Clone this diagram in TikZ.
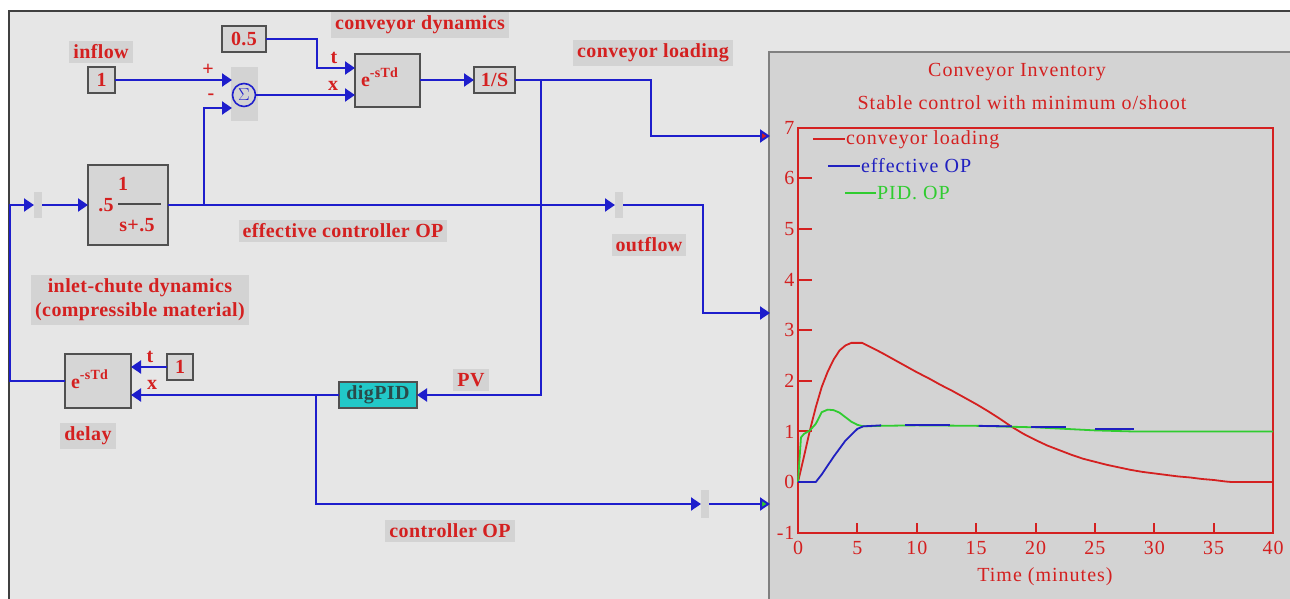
\documentclass[tikz,border=0pt]{standalone}
\usepackage{fontspec}
\setmainfont{Liberation Serif}[LetterSpace=2]
\newfontfamily\plotfamily{Liberation Serif}[LetterSpace=5]
\usetikzlibrary{arrows.meta}
\definecolor{pagebg}{HTML}{E6E6E6}
\definecolor{lblbg}{HTML}{D3D3D3}
\definecolor{blkfill}{HTML}{D6D6D6}
\definecolor{blkborder}{HTML}{505050}
\definecolor{wireblue}{HTML}{1E1ECC}
\definecolor{txtred}{HTML}{D42020}
\definecolor{panelgray}{HTML}{D3D3D3}
\definecolor{framegray}{HTML}{404040}
\definecolor{pidfill}{HTML}{22C8C8}
\definecolor{pidtext}{HTML}{2A4A4A}
\definecolor{pgreen}{HTML}{30CC30}
\definecolor{pblue}{HTML}{2020C0}
\definecolor{pred}{HTML}{D42020}
\newcommand\lblfont{\fontsize{20}{24}\selectfont\bfseries}
\newcommand\plotfont{\plotfamily\fontsize{20}{24}\selectfont}
\newcommand\supfont{\fontsize{14}{14}\selectfont\bfseries}
\begin{document}
\begin{tikzpicture}[x=1pt,y=-1pt,
  every node/.style={inner sep=0pt,outer sep=0pt},
  lbl/.style={fill=lblbg,text=txtred,font=\lblfont,inner xsep=4pt,inner ysep=4pt,align=center},
  plaintxt/.style={text=txtred,font=\lblfont},
  smalltxt/.style={text=txtred,font=\fontsize{20}{20}\selectfont\bfseries},
  blockbox/.style={draw=blkborder,fill=blkfill,line width=1.6pt,text=txtred,font=\lblfont},
  portbar/.style={fill=lblbg,minimum width=8pt,minimum height=26pt},
  wireline/.style={draw=wireblue,line width=2pt},
  flow/.style={wireline,-{Triangle[length=10pt,width=13pt]}},
  flowR/.style={wireline,-{Triangle[length=10pt,width=13pt,fill=pred]}},
  flowG/.style={wireline,-{Triangle[length=10pt,width=13pt,fill=pgreen]}},
  axisline/.style={draw=pred,line width=2pt},
  ticktxt/.style={text=pred,font=\plotfont},
  curve/.style={line width=1.8pt,line join=round}
]
\useasboundingbox (0,0) rectangle (1290,599);
% backgrounds
\fill[white] (0,0) rectangle (1290,599);
\fill[pagebg] (9,11) rectangle (1290,599);
\fill[panelgray] (769,52) rectangle (1290,599);
\draw[gray,line width=2pt] (769,599) -- (769,52) -- (1290,52);
\draw[framegray,line width=2.5pt] (9,599) -- (9,11) -- (1290,11);

% ---- labels
\node[lbl] (inflowlbl) at (101,52) {inflow};
\node[lbl] (cdynlbl) at (420,25) {conveyor dynamics};
\node[lbl] (cloadlbl) at (653,53) {conveyor loading};
\node[lbl] (efflbl) at (343,231) {effective controller OP};
\node[lbl] (outflowlbl) at (649,245) {outflow};
\node[lbl] (inletlbl) at (140,300) {inlet-chute dynamics\\(compressible material)};
\node[lbl] (delaylbl) at (88,436) {delay};
\node[lbl] (pvlbl) at (471,380) {PV};
\node[lbl] (coplbl) at (450,531) {controller OP};

% ---- blocks
\node[blockbox,minimum width=27pt,minimum height=26pt] (one1) at (101.5,80) {1};
\node[blockbox,minimum width=44pt,minimum height=26pt] (half) at (244,39) {0.5};
\node[fill=lblbg,minimum width=27pt,minimum height=54pt] (sumbg) at (244,94) {};
\node[circle,draw=wireblue,line width=1.6pt,minimum size=23pt,text=wireblue,font=\fontsize{16}{16}\selectfont] (sum) at (244,95) {$\Sigma$};
\node[blockbox,minimum width=65pt,minimum height=53pt] (cdel) at (387.5,80.5) {};
\node[plaintxt,anchor=base west] (cdeltxt) at (361,87) {e\raisebox{9pt}{\supfont -sTd}};
\node[blockbox,minimum width=41pt,minimum height=26pt] (integ) at (494.5,80) {1/S};
\node[blockbox,minimum width=80pt,minimum height=80pt] (filt) at (128,205) {};
\node[plaintxt] (filtk) at (106,205) {.5};
\node[plaintxt] (filtnum) at (123,184) {1};
\node[plaintxt] (filtden) at (137,225) {s+.5};
\draw[black!70,line width=1.2pt] (118,204) -- (161,204);
\node[blockbox,minimum width=66pt,minimum height=54pt] (ldel) at (98,381) {};
\node[plaintxt,anchor=base west] (ldeltxt) at (71,388) {e\raisebox{9pt}{\supfont -sTd}};
\node[blockbox,minimum width=26pt,minimum height=26pt] (one2) at (180,367) {1};
\node[draw=blkborder,line width=1.6pt,fill=pidfill,text=pidtext,font=\lblfont,minimum width=78pt,minimum height=26pt] (pid) at (378,395) {digPID};
\node[portbar] (lport) at (38,205) {};
\node[portbar] (outport) at (619,205) {};
\node[portbar,minimum height=28pt] (cport) at (705,504) {};

% ---- small port labels
\node[smalltxt] (plus) at (208,70) {+};
\node[smalltxt] (minus) at (211,97) {-};
\node[smalltxt] (ct) at (334,58) {t};
\node[smalltxt] (cx) at (333,86) {x};
\node[smalltxt] (lt) at (150,357) {t};
\node[smalltxt] (lx) at (152,385) {x};

% ---- connectors
\coordinate (sumPlus) at (232,80);
\coordinate (sumMinus) at (232,108);
\coordinate (fj) at (204,205);
\coordinate (tbend) at (317,68);
\coordinate (lbend) at (651,136);
\coordinate (plotA) at (770,136);
\coordinate (pvj) at (541,80);
\coordinate (obend) at (703,313);
\coordinate (plotB) at (770,313);
\coordinate (lcorner) at (10,205);
\coordinate (cj) at (316,395);
\coordinate (plotC) at (770,504);

\draw[flow] (one1.east) -- (sumPlus);
\draw[flow] (fj) |- (sumMinus);
\draw[flow] (sum.east) -- (sum.east -| cdel.west);
\draw[flow] (half.east) -| (tbend) -- (tbend -| cdel.west);
\draw[flow] (cdel.east |- integ.west) -- (integ.west);
\draw[flowR] (integ.east) -| (lbend) -- (plotA);
\draw[flow] (pvj) |- (pid.east);
\draw[flow] (filt.east) -- (outport.west);
\draw[flow] (outport.east) -| (obend) -- (plotB);
\draw[flow] (ldel.west) -| (lcorner) -- (lport.west);
\draw[flow] (lport.east) -- (filt.west);
\draw[flow] (one2.west) -- (one2.west -| ldel.east);
\draw[flow] (pid.west) -- (pid.west -| ldel.east);
\draw[flow] (cj) |- (cport.west);
\draw[flowG] (cport.east) -- (plotC);

% ---- plot
\node[text=pred,font=\plotfont] (ptitle) at (1017,72) {Conveyor Inventory};
\node[text=pred,font=\plotfont] (psub) at (1022,103) {Stable control with minimum o/shoot};
\draw[pred,line width=2pt] (813,139) -- (845,139);
\node[text=pred,font=\plotfont,anchor=base west] (leg1) at (846,145) {conveyor loading};
\draw[pblue,line width=2pt] (828,166) -- (860,166);
\node[text=pblue,font=\plotfont,anchor=base west] (leg2) at (861,172) {effective OP};
\draw[pgreen,line width=2pt] (845,193) -- (876,193);
\node[text=pgreen,font=\plotfont,anchor=base west] (leg3) at (877,199) {PID. OP};

\begin{scope}[xshift=798pt,yshift=-482pt,x=11.875pt,y=50.6pt]
  \draw[axisline] (0,-1) rectangle (40,7);
  \foreach \v in {0,...,6} \draw[axisline] (0,\v) -- (1.2,\v);
  \foreach \t in {5,10,...,35} \draw[axisline] (\t,-1) -- (\t,-0.82);
  \foreach \v in {-1,...,7} \node[ticktxt,anchor=east] at (-0.3,\v) {\v};
  \foreach \t in {0,5,...,40} \node[ticktxt] at (\t,-1.3) {\t};
  \node[ticktxt] (xlab) at (20.8,-1.88) {Time (minutes)};
  % conveyor loading
  \draw[pred,curve] plot coordinates {(0,0) (0.5,0.5) (1,1.02) (1.5,1.48) (2,1.88) (2.5,2.18) (3,2.42) (3.5,2.6) (4,2.7) (4.5,2.75) (5.4,2.75) (6,2.68) (7,2.56) (8,2.43) (9,2.3) (10,2.17) (11,2.05) (12,1.92) (13,1.8) (14,1.67) (15,1.54) (16,1.4) (17,1.25) (18,1.09) (19,0.95) (20,0.83) (21,0.72) (22,0.63) (23,0.54) (24,0.46) (25,0.4) (26,0.34) (27,0.29) (28,0.24) (29,0.2) (30,0.17) (31,0.14) (32,0.11) (33,0.09) (34,0.06) (35,0.04) (36,0.01) (36.5,0) (40,0)};
  % PID OP
  \draw[pgreen,curve] plot coordinates {(0,0) (0.25,0.88) (0.5,0.95) (1,1.02) (1.5,1.15) (2,1.38) (2.5,1.43) (3,1.42) (3.5,1.37) (4,1.28) (4.5,1.19) (5,1.13) (5.5,1.1) (7,1.11) (10,1.12) (15,1.11) (20,1.08) (25,1.02) (28,1.0) (40,1.0)};
  % effective OP
  \draw[pblue,curve] plot coordinates {(0,0) (1.5,0) (2,0.15) (3,0.5) (4,0.82) (5,1.05) (5.5,1.1) (7,1.12)};
  \draw[pblue,curve] (9,1.13) -- (12.8,1.13);
  \draw[pblue,curve] (15.2,1.11) -- (18,1.1);
  \draw[pblue,curve] (19.6,1.08) -- (22.6,1.08);
  \draw[pblue,curve] (25,1.04) -- (28.3,1.04);
\end{scope}
\end{tikzpicture}
\end{document}
